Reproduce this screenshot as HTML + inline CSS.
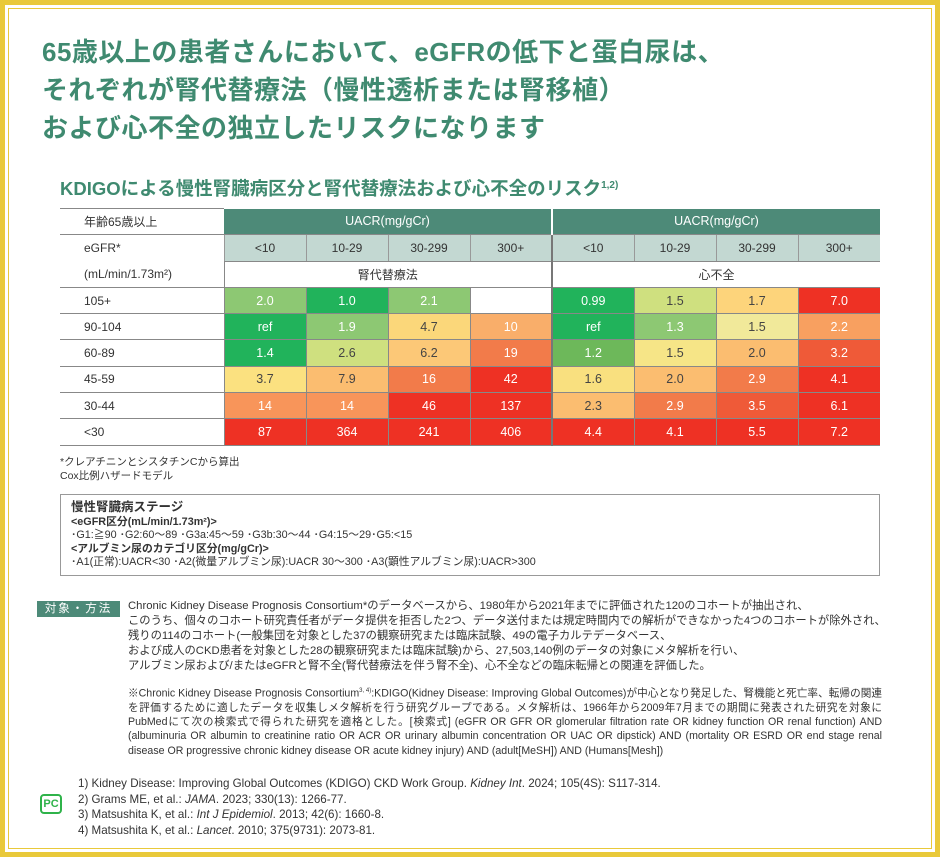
<!DOCTYPE html>
<html><head><meta charset="utf-8"><style>
*{margin:0;padding:0;box-sizing:border-box}
body{width:940px;height:857px;background:#fff;font-family:"Liberation Sans","Noto Sans CJK JP",sans-serif;color:#333;position:relative;overflow:hidden}
.frame{position:absolute;left:0;top:0;width:940px;height:857px;border:5px solid #e9c93a;}
.frame2{position:absolute;left:8px;top:8px;width:924px;height:841px;border:1px solid #e9c93a}
h1{position:absolute;left:42px;top:33px;font-size:26px;line-height:38px;color:#3f8a70;font-weight:bold;letter-spacing:0.5px}
h2{position:absolute;left:60px;top:175px;font-size:18.5px;color:#3f8a70;font-weight:bold}
h2 sup{font-size:10px}
table{position:absolute;left:60px;top:208px;border-collapse:collapse;font-size:12px}
td{height:26.3px;text-align:center;border-bottom:1px solid #888;}
td.l{text-align:left;padding-left:24px;width:164px;color:#333}
.hd{background:#4d8a78;color:#fff;font-size:12.5px}
.sh{background:#c3d8d2;border-left:1px solid #999;width:82px}
.c{color:#fff;width:82px;border-left:1px solid #888;font-size:12.5px}
.d{color:#444}
.g{border-left:2px solid #777!important}
.notes{position:absolute;left:60px;top:455px;font-size:10.5px;line-height:14px}
.box{position:absolute;left:60px;top:494px;width:820px;height:82px;border:1px solid #999;padding:6px 10px;font-size:10.8px;line-height:13.5px}
.tag{position:absolute;left:37px;top:601px;width:83px;height:16px;background:#4d8a78;color:#fff;font-size:11.5px;text-align:center;line-height:16px;letter-spacing:2px}
.m{position:absolute;left:128px;top:599px;font-size:11.3px;line-height:15px;width:780px;white-space:nowrap}
.m2{position:absolute;left:128px;top:684px;font-size:10.6px;line-height:14.3px;width:754px;text-align:justify}
.refs{position:absolute;left:78px;top:776px;font-size:11.6px;line-height:15.5px}
.pc{position:absolute;left:40px;top:794px;width:22px;height:20px;border:2px solid #2fb34a;border-radius:4px;color:#2fb34a;font-weight:bold;font-size:11px;text-align:center;line-height:16px}
</style></head><body>
<div class="frame"></div><div class="frame2"></div>
<h1>65歳以上の患者さんにおいて、eGFRの低下と蛋白尿は、<br>それぞれが腎代替療法（慢性透析または腎移植）<br>および心不全の独立したリスクになります</h1>
<h2>KDIGOによる慢性腎臓病区分と腎代替療法および心不全のリスク<sup>1,2)</sup></h2>
<table>
<tr><td class="l" style="border-top:1px solid #888">年齢65歳以上</td><td class="hd" colspan="4">UACR(mg/gCr)</td><td class="hd g" colspan="4" style="border-left:2px solid #fff!important">UACR(mg/gCr)</td></tr>
<tr><td class="l" style="border-bottom:none">eGFR*</td><td class="sh">&lt;10</td><td class="sh">10-29</td><td class="sh">30-299</td><td class="sh">300+</td><td class="sh g">&lt;10</td><td class="sh">10-29</td><td class="sh">30-299</td><td class="sh">300+</td></tr>
<tr><td class="l">(mL/min/1.73m²)</td><td colspan="4" style="border-left:1px solid #888">腎代替療法</td><td colspan="4" class="g">心不全</td></tr>
<tr><td class="l">105+</td><td class="c" style="background:#8dc873">2.0</td><td class="c" style="background:#21b35b">1.0</td><td class="c" style="background:#8dc873">2.1</td><td class="c" style="background:#fff"></td><td class="c g" style="background:#21b35b">0.99</td><td class="c d" style="background:#cfe07f">1.5</td><td class="c d" style="background:#fdd47b">1.7</td><td class="c" style="background:#ee3124">7.0</td></tr>
<tr><td class="l">90-104</td><td class="c" style="background:#21b35b">ref</td><td class="c" style="background:#8dc873">1.9</td><td class="c d" style="background:#fbd77a">4.7</td><td class="c" style="background:#f9ae6a">10</td><td class="c g" style="background:#21b35b">ref</td><td class="c" style="background:#8dc873">1.3</td><td class="c d" style="background:#f1e99a">1.5</td><td class="c" style="background:#f8a060">2.2</td></tr>
<tr><td class="l">60-89</td><td class="c" style="background:#21b35b">1.4</td><td class="c d" style="background:#cfe07f">2.6</td><td class="c d" style="background:#fcc877">6.2</td><td class="c" style="background:#f27b4a">19</td><td class="c g" style="background:#6db85a">1.2</td><td class="c d" style="background:#f6e587">1.5</td><td class="c d" style="background:#fbbd70">2.0</td><td class="c" style="background:#ef5a38">3.2</td></tr>
<tr><td class="l">45-59</td><td class="c d" style="background:#fbe180">3.7</td><td class="c d" style="background:#fbbd70">7.9</td><td class="c" style="background:#f27b4a">16</td><td class="c" style="background:#ee3124">42</td><td class="c g d" style="background:#f9e07f">1.6</td><td class="c d" style="background:#fbbd70">2.0</td><td class="c" style="background:#f27b4a">2.9</td><td class="c" style="background:#ee3124">4.1</td></tr>
<tr><td class="l">30-44</td><td class="c" style="background:#f8955a">14</td><td class="c" style="background:#f8955a">14</td><td class="c" style="background:#ee3124">46</td><td class="c" style="background:#ee3124">137</td><td class="c g d" style="background:#fbbd70">2.3</td><td class="c" style="background:#f27b4a">2.9</td><td class="c" style="background:#ef5a38">3.5</td><td class="c" style="background:#ee3124">6.1</td></tr>
<tr><td class="l">&lt;30</td><td class="c" style="background:#ee3124">87</td><td class="c" style="background:#ee3124">364</td><td class="c" style="background:#ee3124">241</td><td class="c" style="background:#ee3124">406</td><td class="c g" style="background:#ee3124">4.4</td><td class="c" style="background:#ee3124">4.1</td><td class="c" style="background:#ee3124">5.5</td><td class="c" style="background:#ee3124">7.2</td></tr>
</table>
<div class="notes">*クレアチニンとシスタチンCから算出<br>Cox比例ハザードモデル</div>
<div class="box"><b style="font-size:12.5px">慢性腎臓病ステージ</b><br><b>&lt;eGFR区分(mL/min/1.73m²)&gt;</b><br>･G1:≧90 ･G2:60～89 ･G3a:45～59 ･G3b:30～44 ･G4:15～29･G5:&lt;15<br><b>&lt;アルブミン尿のカテゴリ区分(mg/gCr)&gt;</b><br>･A1(正常):UACR&lt;30 ･A2(微量アルブミン尿):UACR 30～300 ･A3(顕性アルブミン尿):UACR&gt;300</div>
<div class="tag">対象・方法</div>
<div class="m">Chronic Kidney Disease Prognosis Consortium*のデータベースから、1980年から2021年までに評価された120のコホートが抽出され、<br>このうち、個々のコホート研究責任者がデータ提供を拒否した2つ、データ送付または規定時間内での解析ができなかった4つのコホートが除外され、<br>残りの114のコホート(一般集団を対象とした37の観察研究または臨床試験、49の電子カルテデータベース、<br>および成人のCKD患者を対象とした28の観察研究または臨床試験)から、27,503,140例のデータの対象にメタ解析を行い、<br>アルブミン尿および/またはeGFRと腎不全(腎代替療法を伴う腎不全)、心不全などの臨床転帰との関連を評価した。</div>
<div class="m2">※Chronic Kidney Disease Prognosis Consortium<sup style="font-size:6px">3, 4)</sup>:KDIGO(Kidney Disease: Improving Global Outcomes)が中心となり発足した、腎機能と死亡率、転帰の関連を評価するために適したデータを収集しメタ解析を行う研究グループである。メタ解析は、1966年から2009年7月までの期間に発表された研究を対象にPubMedにて次の検索式で得られた研究を適格とした。[検索式] (eGFR OR GFR OR glomerular filtration rate OR kidney function OR renal function) AND (albuminuria OR albumin to creatinine ratio OR ACR OR urinary albumin concentration OR UAC OR dipstick) AND (mortality OR ESRD OR end stage renal disease OR progressive chronic kidney disease OR acute kidney injury) AND (adult[MeSH]) AND (Humans[Mesh])</div>
<div class="pc">PC</div>
<div class="refs">1) Kidney Disease: Improving Global Outcomes (KDIGO) CKD Work Group. <i>Kidney Int</i>. 2024; 105(4S): S117-314.<br>2) Grams ME, et al.: <i>JAMA</i>. 2023; 330(13): 1266-77.<br>3) Matsushita K, et al.: <i>Int J Epidemiol</i>. 2013; 42(6): 1660-8.<br>4) Matsushita K, et al.: <i>Lancet</i>. 2010; 375(9731): 2073-81.</div>
</body></html>
